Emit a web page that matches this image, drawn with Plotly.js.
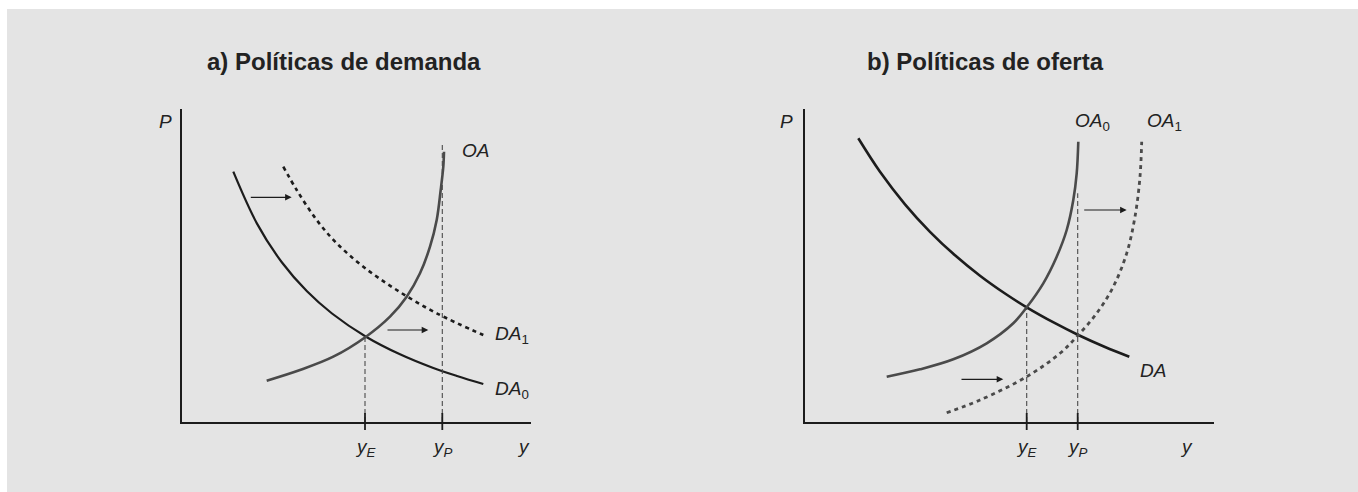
<!DOCTYPE html>
<html>
<head>
<meta charset="utf-8">
<script src="https://cdn.plot.ly/plotly-3.0.1.min.js"></script>
<style>html,body{margin:0;padding:0;background:#fff;}#chart{width:1358px;height:492px;}</style>
</head>
<body>
<div id="chart"></div>
<script>
// ---------- Panel a) Políticas de demanda ----------
const titleA = "a) Políticas de demanda";
const da0X = [51.3, 75, 100, 125, 150, 184, 218, 250, 275, 301.3];
const da0Y = [250.3, 198.4, 159.5, 130.7, 108.5, 85.3, 67.7, 54.5, 46, 38];
const da1X = [101.3, 114.7, 134.7, 154.7, 181.3, 214.7, 254.7, 301.3];
const da1Y = [255.3, 232, 202, 178.7, 155.3, 132, 108.7, 87];
const oaX = [84.7, 118, 151.3, 184, 208, 224.7, 238, 248, 254.7, 258.7, 261.3, 262];
const oaY = [41.3, 52, 65.3, 85.3, 105.3, 125.3, 148.7, 175.3, 202, 232, 255.3, 270.3];
const aTicks = [183, 260.3];          // yE, yP
const aGuideTop = [85.3, 278.7];
const aTickLabels = ["<i>y<sub>E</sub></i>", "<i>y<sub>P</sub></i>"];
const aArrowFromX = [67.3, 204];
const aArrowToX = [109.7, 246.3];
const aArrowY = [224.7, 92];
const aLabels = ["<i>P</i>", "<i>OA</i>", "<i>DA</i><sub>1</sub>", "<i>DA</i><sub>0</sub>", "<i>y</i>"];
const aLabelX = [-17, 278, 311, 311, 341];
const aLabelY = [301, 272, 87, 32, -24];
const aLabelAnchor = ["center", "left", "left", "left", "center"];

// ---------- Panel b) Políticas de oferta ----------
const titleB = "b) Políticas de oferta";
const daX = [53.3, 75, 100, 125, 150, 175, 200, 221.7, 250, 273.3, 300, 324.3];
const daY = [283.7, 250.2, 217.7, 190.2, 166.7, 146.3, 128.5, 114.7, 98.8, 87, 75, 65.3];
const oa0X = [81.7, 115, 148.3, 181.7, 208.3, 221.7, 238.3, 251.7, 261.7, 268.3, 271.7, 273.3];
const oa0Y = [45.3, 52.7, 62.7, 78.7, 98.7, 114.7, 138.7, 165.3, 192, 222, 248.7, 280.3];
const oa1X = [141.7, 175, 221.7, 255, 273.3, 291.7, 308.3, 321.7, 330, 335, 336.7];
const oa1Y = [9.3, 22, 45.3, 68.7, 87, 108.7, 135.3, 168.7, 205.3, 245.3, 280.3];
const bTicks = [221.7, 272.7];
const bGuideTop = [114.7, 228.7];
const bTickLabels = ["<i>y<sub>E</sub></i>", "<i>y<sub>P</sub></i>"];
const bArrowFromX = [277.7, 155];
const bArrowToX = [321.7, 198.3];
const bArrowY = [212, 42.7];
const bLabels = ["<i>P</i>", "<i>OA</i><sub>0</sub>", "<i>OA</i><sub>1</sub>", "<i>DA</i>", "<i>y</i>"];
const bLabelX = [-18.3, 268, 340, 333, 381];
const bLabelY = [300.3, 300, 300, 52, -24];
const bLabelAnchor = ["center", "left", "left", "left", "center"];

// ---------- geometry ----------
const W = 1358, H = 492;
const BLACK = "#1c1c1c", GREY = "#4a4a4a", TXT = "#222";
const FONT = "Liberation Sans, Arial, Helvetica, sans-serif";
const ORIGIN_A = [182, 422], ORIGIN_B = [805, 422];

function px(x) { return x / W; }
function py(y) { return (H - y) / H; }

const traces = [];
const shapes = [{type: "rect", xref: "paper", yref: "paper", x0: px(7), x1: 1, y0: 0, y1: py(9),
  fillcolor: "#e4e4e4", line: {width: 0}, layer: "below"}];

function curve(x, y, color, width, dash, xa, ya) {
  traces.push({x: x, y: y, type: "scatter", mode: "lines", xaxis: xa, yaxis: ya,
    line: {color: color, width: width, dash: dash || "solid", shape: "spline", smoothing: 1},
    hoverinfo: "skip", showlegend: false});
}
function seg(x, y, color, width, dash, xa, ya) {
  traces.push({x: x, y: y, type: "scatter", mode: "lines", xaxis: xa, yaxis: ya,
    line: {color: color, width: width, dash: dash || "solid"},
    hoverinfo: "skip", showlegend: false});
}

// panel a
curve(da0X, da0Y, BLACK, 2.2, null, "x", "y");
curve(da1X, da1Y, BLACK, 2.6, "4px,4px", "x", "y");
curve(oaX, oaY, GREY, 2.6, null, "x", "y");
// panel b
curve(daX, daY, BLACK, 2.6, null, "x2", "y2");
curve(oa0X, oa0Y, GREY, 2.6, null, "x2", "y2");
curve(oa1X, oa1Y, GREY, 2.8, "4px,4px", "x2", "y2");

const annotations = [];
function panelExtras(origin, ticks, guideTop, tickLabels, afx, atx, ay, labels, lx, ly, anchor, xa, ya) {
  const fx = v => px(origin[0] + v);
  const fy = v => py(origin[1] - v);
  for (let i = 0; i < ticks.length; i++) {
    seg([ticks[i], ticks[i]], [0, guideTop[i]], GREY, 1.1, "5px,3px", xa, ya);
    shapes.push({type: "line", xref: xa, yref: "paper", x0: ticks[i], x1: ticks[i], y0: fy(-8), y1: fy(9),
      line: {color: BLACK, width: 1.8}});
    annotations.push({xref: "paper", yref: "paper", x: fx(ticks[i]), y: fy(-26), text: tickLabels[i], showarrow: false,
      xanchor: "center", yanchor: "middle", font: {family: FONT, size: 19, color: TXT}});
  }
  for (let i = 0; i < afx.length; i++) {
    annotations.push({xref: xa, yref: ya, axref: xa, ayref: ya, x: atx[i], y: ay[i], ax: afx[i], ay: ay[i],
      text: "", showarrow: true, arrowhead: 2, arrowsize: 1.1, arrowwidth: 1.2, arrowcolor: BLACK, standoff: 0});
  }
  for (let i = 0; i < labels.length; i++) {
    annotations.push({xref: "paper", yref: "paper", x: fx(lx[i]), y: fy(ly[i]), text: labels[i], showarrow: false,
      xanchor: anchor[i], yanchor: "middle", font: {family: FONT, size: 19, color: TXT}});
  }
}
panelExtras(ORIGIN_A, aTicks, aGuideTop, aTickLabels, aArrowFromX, aArrowToX, aArrowY, aLabels, aLabelX, aLabelY, aLabelAnchor, "x", "y");
panelExtras(ORIGIN_B, bTicks, bGuideTop, bTickLabels, bArrowFromX, bArrowToX, bArrowY, bLabels, bLabelX, bLabelY, bLabelAnchor, "x2", "y2");

annotations.push({xref: "paper", yref: "paper", x: px(344), y: py(61), text: "<b>" + titleA + "</b>",
  showarrow: false, xanchor: "center", yanchor: "middle", font: {family: FONT, size: 24, color: TXT}});
annotations.push({xref: "paper", yref: "paper", x: px(985.5), y: py(61), text: "<b>" + titleB + "</b>",
  showarrow: false, xanchor: "center", yanchor: "middle", font: {family: FONT, size: 24, color: TXT}});

function axis(d0, d1, r, extra) {
  return Object.assign({domain: [d0, d1], range: r, showline: true, linecolor: BLACK, linewidth: 1.6,
    showgrid: false, zeroline: false, showticklabels: false, ticks: "", fixedrange: true}, extra || {});
}

const layout = {
  width: W, height: H,
  margin: {l: 0, r: 0, t: 0, b: 0},
  paper_bgcolor: "#ffffff", plot_bgcolor: "rgba(0,0,0,0)",
  showlegend: false,
  xaxis: axis(px(182), px(531), [0, 349], {anchor: "y"}),
  yaxis: axis(py(422), py(109), [0, 313], {anchor: "x"}),
  xaxis2: axis(px(805), px(1214), [0, 409], {anchor: "y2"}),
  yaxis2: axis(py(422), py(109), [0, 313], {anchor: "x2"}),
  shapes: shapes,
  annotations: annotations
};

Plotly.newPlot("chart", traces, layout, {displayModeBar: false, staticPlot: true});
</script>
</body>
</html>
